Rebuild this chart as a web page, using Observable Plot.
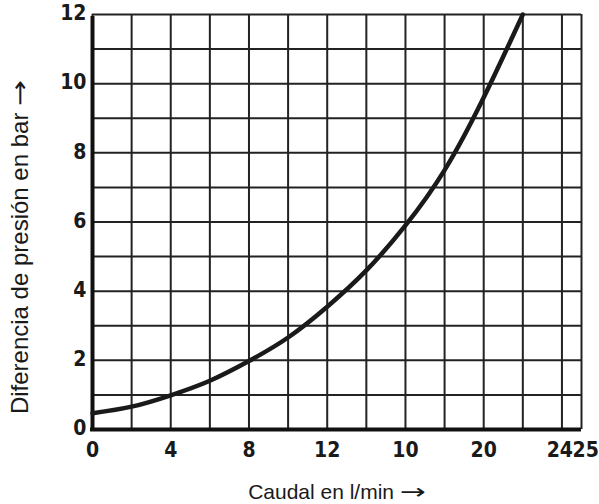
<!DOCTYPE html>
<html>
<head>
<meta charset="utf-8">
<script src="https://cdn.jsdelivr.net/npm/d3@7"></script>
<script src="https://cdn.jsdelivr.net/npm/@observablehq/plot@0.6"></script>
<style>
  html, body { margin: 0; padding: 0; background: #fff; }
  #chart svg { display: block; }
</style>
</head>
<body>
<div id="chart"></div>
<script>
// Data
const flow = [0, 2, 4, 6, 8, 10, 12, 14, 16, 18, 20, 22];
const pressure = [0.47, 0.66, 0.99, 1.41, 1.98, 2.66, 3.55, 4.6, 5.9, 7.5, 9.6, 12.0];
const xGrid = [0, 2, 4, 6, 8, 10, 12, 14, 16, 18, 20, 22, 24, 25];
const yGrid = [0, 1, 2, 3, 4, 5, 6, 7, 8, 9, 10, 11, 12];
const xTickValues = [0, 4, 8, 12, 16, 20, 24, 25];
const xTickLabels = ["0", "4", "8", "12", "10", "20", "24", "25"];
const yTickValues = [0, 2, 4, 6, 8, 10, 12];
const xTitle = "Caudal en l/min →";
const yTitle = "Diferencia de presión en bar →";

const curveData = flow.map((x, i) => ({x, y: pressure[i]}));
const xTicks = xTickValues.map((v, i) => ({v, label: xTickLabels[i]}));

const tickFont = {fontFamily: "DejaVu Sans Condensed, DejaVu Sans", fontWeight: "bold", fontSize: 21, fill: "#1a1a1a"};
const titleFont = {fontFamily: "Liberation Sans, Arial, sans-serif", fill: "#1a1a1a"};

const chart = Plot.plot({
  width: 599,
  height: 504,
  marginLeft: 92,
  marginRight: 18,
  marginTop: 14,
  marginBottom: 75,
  x: {domain: [0, 25], axis: null},
  y: {domain: [0, 12], axis: null},
  marks: [
    Plot.ruleX(xGrid, {x: d => d, stroke: "#222", strokeWidth: 2}),
    Plot.ruleY(yGrid, {y: d => d, stroke: "#222", strokeWidth: 2}),
    Plot.ruleX([0], {stroke: "#111", strokeWidth: 4, y1: 0, y2: 12, insetBottom: -2}),
    Plot.ruleY([0], {stroke: "#111", strokeWidth: 4, x1: 0, x2: 25, insetLeft: -2}),
    Plot.line(curveData, {x: "x", y: "y", curve: "natural", stroke: "#1a1a1a", strokeWidth: 4.5}),
    Plot.text(yTickValues, {x: 0, y: d => d, text: d => String(d), textAnchor: "end", dx: -6, dy: -1, ...tickFont}),
    Plot.text(xTicks.filter(d => d.v < 24), {x: "v", y: 0, text: "label", dy: 21, ...tickFont}),
    Plot.text(xTicks.filter(d => d.v === 24), {x: "v", y: 0, text: "label", dy: 21, textAnchor: "end", dx: 11, ...tickFont}),
    Plot.text(xTicks.filter(d => d.v === 25), {x: "v", y: 0, text: "label", dy: 21, textAnchor: "start", dx: -9, ...tickFont}),
    Plot.text([xTitle], {frameAnchor: "bottom", textAnchor: "middle", text: d => d, dy: 69, dx: 0, fontSize: 21, ...titleFont}),
    Plot.text([yTitle], {frameAnchor: "left", textAnchor: "middle", text: d => d, rotate: -90, dx: -72, dy: 25, fontSize: 24, ...titleFont})
  ]
});
document.getElementById("chart").appendChild(chart);

// Render the trailing arrow of each axis title as a long arrow
d3.select(chart).selectAll("text").each(function () {
  const t = d3.select(this);
  const s = t.text();
  if (s.endsWith(" →")) {
    t.text(s.slice(0, -1));
    t.append("tspan").attr("font-family", "DejaVu Sans")
      .attr("textLength", 26).attr("lengthAdjust", "spacingAndGlyphs").text("→");
  }
});
</script>
</body>
</html>
